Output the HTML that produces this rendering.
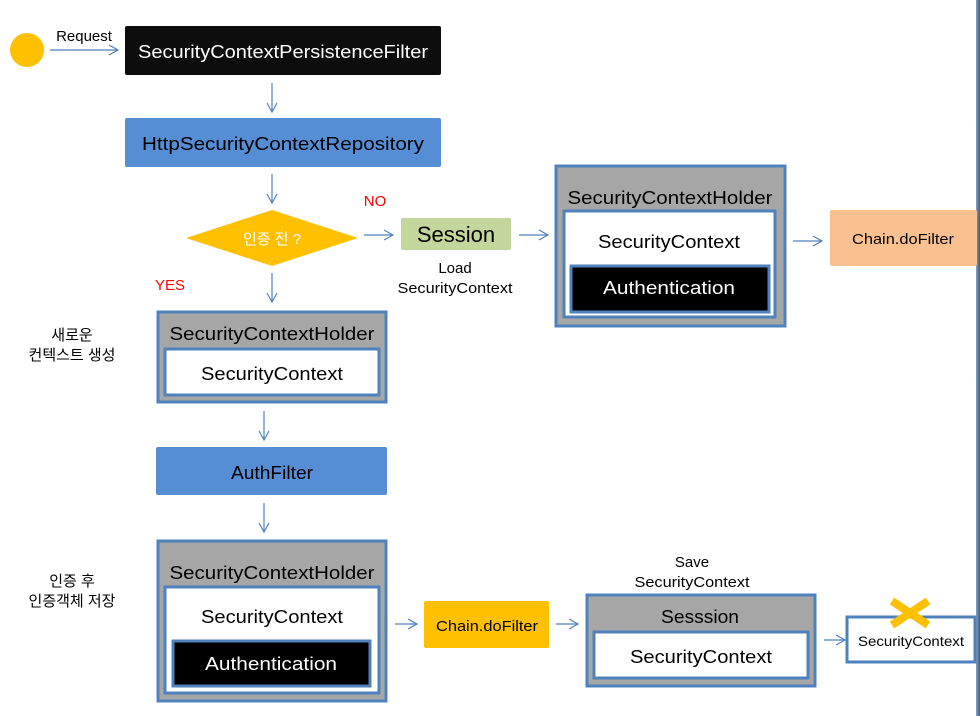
<!DOCTYPE html>
<html><head><meta charset="utf-8"><style>
html,body{margin:0;padding:0;background:#fff;}
svg{display:block;}
text{font-family:"Liberation Sans","Noto Sans CJK KR",sans-serif;}
</style></head><body>
<svg width="980" height="716" viewBox="0 0 980 716" xmlns="http://www.w3.org/2000/svg">
<defs>
<marker id="a" markerWidth="12" markerHeight="12" refX="10" refY="6" orient="auto" markerUnits="userSpaceOnUse">
<path d="M1,1 L10,6 L1,11" fill="none" stroke="#4f81bd" stroke-width="1.2"/>
</marker>
<linearGradient id="rg" x1="0" x2="1"><stop offset="0" stop-color="#8aa2c0"/><stop offset="1" stop-color="#3d5a80"/></linearGradient>
</defs>
<rect x="976" y="0" width="4" height="716" fill="url(#rg)"/>
<g stroke="#4f81bd" stroke-width="1.2" marker-end="url(#a)">
<line x1="50" y1="50" x2="118" y2="50"/>
<line x1="272" y1="83" x2="272" y2="112"/>
<line x1="272" y1="174" x2="272" y2="203"/>
<line x1="364" y1="235" x2="393" y2="235"/>
<line x1="519" y1="235" x2="548" y2="235"/>
<line x1="793" y1="241" x2="822" y2="241"/>
<line x1="272" y1="273" x2="272" y2="302"/>
<line x1="264" y1="411" x2="264" y2="440"/>
<line x1="264" y1="503" x2="264" y2="532"/>
<line x1="395" y1="624" x2="417" y2="624"/>
<line x1="556" y1="624" x2="578" y2="624"/>
<line x1="824" y1="640" x2="845" y2="640"/>
</g>
<circle cx="27" cy="50" r="17" fill="#ffc000"/>
<text x="84" y="41" font-size="15" text-anchor="middle">Request</text>
<rect x="125" y="26" width="316" height="49" rx="2" fill="#0d0d0d"/>
<text x="283" y="58" font-size="18" fill="#fff" text-anchor="middle" textLength="290" lengthAdjust="spacingAndGlyphs">SecurityContextPersistenceFilter</text>
<rect x="125" y="118" width="316" height="49" rx="2" fill="#558ed5"/>
<text x="283" y="150" font-size="18" fill="#000" text-anchor="middle" textLength="282" lengthAdjust="spacingAndGlyphs">HttpSecurityContextRepository</text>
<polygon points="186,238 272,210 358,238 272,266" fill="#ffc000"/>
<text x="272" y="244" font-size="15" fill="#fff" text-anchor="middle">인증 전 ?</text>
<text x="375" y="206" font-size="15" fill="#ff0000" text-anchor="middle">NO</text>
<text x="170" y="290" font-size="15" fill="#ff0000" text-anchor="middle">YES</text>
<rect x="401" y="218" width="110" height="32" rx="2" fill="#c3d69b"/>
<text x="456" y="242" font-size="22" text-anchor="middle">Session</text>
<text x="455" y="273" font-size="15" text-anchor="middle">Load</text>
<text x="455" y="293" font-size="15" text-anchor="middle" textLength="115" lengthAdjust="spacingAndGlyphs">SecurityContext</text>
<!-- holder 1 -->
<rect x="556" y="166" width="229" height="160" fill="#a6a6a6" stroke="#4f81bd" stroke-width="3"/>
<text x="670" y="204" font-size="18" text-anchor="middle" textLength="205" lengthAdjust="spacingAndGlyphs">SecurityContextHolder</text>
<rect x="564" y="211" width="211" height="106" fill="#fff" stroke="#4f81bd" stroke-width="3"/>
<text x="669" y="248" font-size="18" text-anchor="middle" textLength="142" lengthAdjust="spacingAndGlyphs">SecurityContext</text>
<rect x="571" y="266" width="198" height="46" fill="#000" stroke="#4f81bd" stroke-width="3"/>
<text x="669" y="294" font-size="18" fill="#fff" text-anchor="middle" textLength="132" lengthAdjust="spacingAndGlyphs">Authentication</text>
<rect x="830" y="210" width="147" height="56" rx="2" fill="#fac090"/>
<text x="903" y="244" font-size="15" text-anchor="middle" textLength="102" lengthAdjust="spacingAndGlyphs">Chain.doFilter</text>
<!-- korean labels -->
<text x="72" y="340" font-size="15" text-anchor="middle">새로운</text>
<text x="72" y="360" font-size="15" text-anchor="middle">컨텍스트 생성</text>
<text x="72" y="586" font-size="15" text-anchor="middle">인증 후</text>
<text x="72" y="606" font-size="15" text-anchor="middle">인증객체 저장</text>
<!-- holder 2 -->
<rect x="158" y="312" width="228" height="90" fill="#a6a6a6" stroke="#4f81bd" stroke-width="3"/>
<text x="272" y="340" font-size="18" text-anchor="middle" textLength="205" lengthAdjust="spacingAndGlyphs">SecurityContextHolder</text>
<rect x="165" y="349" width="214" height="46" fill="#fff" stroke="#4f81bd" stroke-width="3"/>
<text x="272" y="380" font-size="18" text-anchor="middle" textLength="142" lengthAdjust="spacingAndGlyphs">SecurityContext</text>
<rect x="156" y="447" width="231" height="48" rx="2" fill="#558ed5"/>
<text x="272" y="479" font-size="18" text-anchor="middle" textLength="82" lengthAdjust="spacingAndGlyphs">AuthFilter</text>
<!-- holder 3 -->
<rect x="158" y="541" width="228" height="160" fill="#a6a6a6" stroke="#4f81bd" stroke-width="3"/>
<text x="272" y="579" font-size="18" text-anchor="middle" textLength="205" lengthAdjust="spacingAndGlyphs">SecurityContextHolder</text>
<rect x="165" y="587" width="214" height="106" fill="#fff" stroke="#4f81bd" stroke-width="3"/>
<text x="272" y="623" font-size="18" text-anchor="middle" textLength="142" lengthAdjust="spacingAndGlyphs">SecurityContext</text>
<rect x="173" y="641" width="197" height="45" fill="#000" stroke="#4f81bd" stroke-width="3"/>
<text x="271" y="670" font-size="18" fill="#fff" text-anchor="middle" textLength="132" lengthAdjust="spacingAndGlyphs">Authentication</text>
<rect x="424" y="601" width="125" height="47" rx="2" fill="#ffc000"/>
<text x="487" y="631" font-size="15" text-anchor="middle" textLength="102" lengthAdjust="spacingAndGlyphs">Chain.doFilter</text>
<text x="692" y="567" font-size="15" text-anchor="middle">Save</text>
<text x="692" y="587" font-size="15" text-anchor="middle" textLength="115" lengthAdjust="spacingAndGlyphs">SecurityContext</text>
<rect x="587" y="595" width="228" height="91" fill="#a6a6a6" stroke="#4f81bd" stroke-width="3"/>
<text x="700" y="623" font-size="18" text-anchor="middle" textLength="78" lengthAdjust="spacingAndGlyphs">Sesssion</text>
<rect x="594" y="632" width="214" height="46" fill="#fff" stroke="#4f81bd" stroke-width="3"/>
<text x="701" y="663" font-size="18" text-anchor="middle" textLength="142" lengthAdjust="spacingAndGlyphs">SecurityContext</text>
<rect x="847" y="617" width="128" height="45" fill="#fff" stroke="#4f81bd" stroke-width="3"/>
<text x="911" y="646" font-size="14" text-anchor="middle" textLength="106" lengthAdjust="spacingAndGlyphs">SecurityContext</text>
<g stroke="#ffc000" stroke-width="8">
<line x1="892" y1="601" x2="928" y2="625"/>
<line x1="928" y1="601" x2="892" y2="625"/>
</g>
</svg>
</body></html>
